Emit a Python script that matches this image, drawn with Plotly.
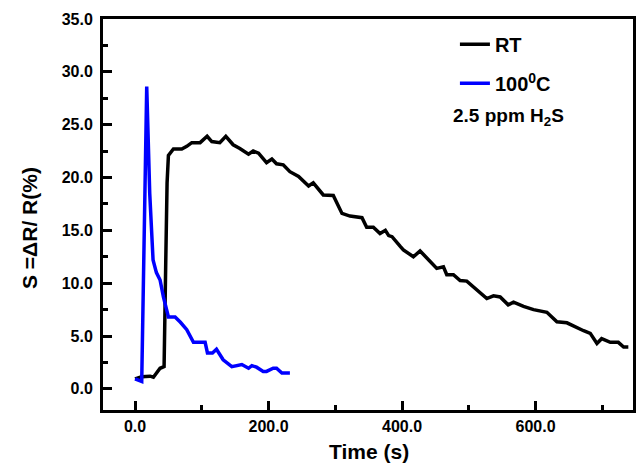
import plotly.graph_objects as go

rt_time = [0, 10, 22.5, 27.5, 37.5, 43.5, 46, 48, 50, 57.5, 70, 77.5, 85, 97.5, 108, 115, 127, 136, 147, 157,
           170, 177, 185, 197, 205, 212, 222, 232, 245, 260, 267, 282, 297, 310, 322, 340, 347, 357, 367, 375,
           380, 385, 397, 402, 417, 427, 440, 452, 462, 467, 477, 487, 497, 510, 527, 537, 547, 559, 567, 582,
           597, 617, 632, 647, 662, 672, 682, 692, 699, 712, 724, 732, 739]
rt_s = [0.95, 1.15, 1.2, 1.1, 1.95, 2.1, 12.0, 19.5, 22.1, 22.7, 22.7, 22.95, 23.3, 23.3, 23.9, 23.4, 23.3, 23.9, 23.1, 22.75,
        22.2, 22.5, 22.3, 21.4, 21.75, 21.3, 21.2, 20.55, 20.1, 19.2, 19.5, 18.35, 18.3, 16.6, 16.35, 16.2, 15.3, 15.3, 14.7, 15.0,
        14.5, 14.4, 13.5, 13.15, 12.5, 13.05, 12.2, 11.4, 11.55, 10.8, 10.8, 10.25, 10.2, 9.5, 8.55, 8.8, 8.7, 7.95, 8.2, 7.8,
        7.5, 7.25, 6.35, 6.25, 5.75, 5.5, 5.25, 4.3, 4.75, 4.4, 4.4, 3.95, 3.95]

hot_time = [0, 10, 17.5, 22, 27, 32, 37.5, 42.5, 50, 60, 68, 77.5, 87.5, 105, 108.5, 116, 122, 127, 132, 145,
            160, 170, 175, 182, 192, 197, 207, 212, 220, 232]
hot_s = [0.95, 0.7, 28.6, 18.5, 12.2, 11.0, 10.3, 8.7, 6.8, 6.8, 6.3, 5.6, 4.4, 4.4, 3.4, 3.4, 3.75, 3.3, 2.75, 2.1,
         2.3, 1.95, 2.2, 2.05, 1.65, 1.65, 1.95, 1.95, 1.5, 1.5]

x_ticks = [0, 200, 400, 600]
x_ticklabels = ["0.0", "200.0", "400.0", "600.0"]
y_ticks = [0, 5, 10, 15, 20, 25, 30, 35]
y_ticklabels = ["0.0", "5.0", "10.0", "15.0", "20.0", "25.0", "30.0", "35.0"]

FONT = "Liberation Sans, Arial, sans-serif"

fig = go.Figure()
fig.add_trace(go.Scatter(x=rt_time, y=rt_s, mode="lines", name="<b>RT</b>",
                         line=dict(color="black", width=3.5), legendgroup="a"))
fig.add_trace(go.Scatter(x=hot_time, y=hot_s, mode="lines", name="<b>100<sup>0</sup>C</b>",
                         line=dict(color="#0000ff", width=3.5), legendgroup="b"))

axis_common = dict(showgrid=False, zeroline=False, showline=True, linecolor="black", linewidth=3,
                   mirror=True, ticks="inside", tickwidth=2.5, ticklen=9, tickcolor="black",
                   automargin=False,
                   tickfont=dict(family=FONT, size=16, color="black"))

fig.update_xaxes(range=[-48, 746], tickvals=x_ticks, ticktext=["<b>%s</b>" % t for t in x_ticklabels],
                 minor=dict(dtick=100, tick0=0, ticks="inside", ticklen=5, tickwidth=2.5, tickcolor="black"),
                 **axis_common)
fig.update_yaxes(range=[-2, 35], tickvals=y_ticks, ticktext=["<b>%s</b>" % t for t in y_ticklabels],
                 minor=dict(dtick=2.5, tick0=0, ticks="inside", ticklen=5, tickwidth=2.5, tickcolor="black"),
                 ticklabelstandoff=4,
                 **axis_common)

# axis titles
fig.add_annotation(x=0.502, y=-0.107, xref="paper", yref="paper", text="<b>Time (s)</b>",
                   showarrow=False, font=dict(family=FONT, size=21, color="black"),
                   xanchor="center", yanchor="middle")
fig.add_annotation(x=-0.14, y=0.465, xref="paper", yref="paper", text="<b>S =ΔR/ R(%)</b>",
                   showarrow=False, textangle=-90, font=dict(family=FONT, size=21, color="black"),
                   xanchor="center", yanchor="middle")

fig.add_annotation(x=0.765, y=0.75, xref="paper", yref="paper", text="<b>2.5 ppm H<sub>2</sub>S</b>",
                   showarrow=False, font=dict(family=FONT, size=19, color="black"), xanchor="center",
                   yanchor="middle")

fig.update_layout(width=636, height=467, plot_bgcolor="white", paper_bgcolor="white",
                  margin=dict(l=103, r=3, t=19, b=57),
                  legend=dict(x=0.664, y=0.985, xanchor="left", yanchor="top", bgcolor="rgba(0,0,0,0)",
                              font=dict(family=FONT, size=20, color="black"), tracegroupgap=10,
                              traceorder="grouped"),
                  showlegend=True)

fig.write_html("out.html", config={"displayModeBar": False},
               post_script="document.body.style.margin='0';document.body.style.padding='0';"
                           "document.body.style.overflow='hidden';")
